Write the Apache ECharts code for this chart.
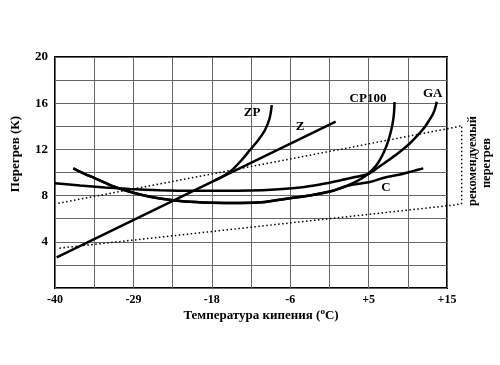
<!DOCTYPE html>
<html><head><meta charset="utf-8">
<script src="https://cdn.jsdelivr.net/npm/echarts@6/dist/echarts.min.js"></script>
<style>html,body{margin:0;padding:0;background:#fff}#c{width:500px;height:365px}</style>
</head><body><div id="c"></div>
<script>
// x values are on the chart's evenly spaced scale (grid every 10 units, -40..60)
var xTickValues = [-40, -20, 0, 20, 40, 60];
var xTickLabels = ['-40', '-29', '-18', '-6', '+5', '+15'];
var yTickValues = [4, 8, 12, 16, 20];

var zLine  = [[-39.57, 2.66], [31.6, 14.4]];
var zpCurve = [[0.82, 9.31], [4.64, 10.07], [7.62, 11.08], [9.74, 11.95], [11.86, 12.81], [13.6, 13.7], [14.75, 14.7], [15.3, 15.84]];
var cp100Curve = [[-35.33, 10.36], [-32.60, 9.91], [-29.80, 9.50], [-26.48, 9.00], [-22.98, 8.55], [-18.32, 8.10], [-13.21, 7.75], [-6.84, 7.49], [-0.03, 7.39], [7.19, 7.36], [13.57, 7.45], [19.95, 7.77], [25.05, 8.01], [30.15, 8.35], [33.98, 8.79], [37.04, 9.26], [39.34, 9.74], [41.12, 10.30], [42.40, 10.82], [43.80, 11.69], [44.82, 12.55], [45.59, 13.42], [46.15, 14.29], [46.48, 15.15], [46.61, 16.10]];
var cCurve = [[-35.33, 10.36], [-32.60, 9.91], [-29.80, 9.50], [-26.48, 9.00], [-22.98, 8.55], [-18.32, 8.10], [-13.21, 7.75], [-6.84, 7.49], [-0.03, 7.39], [7.19, 7.36], [13.57, 7.45], [19.95, 7.77], [25.05, 8.01], [30.15, 8.35], [33.98, 8.79], [37.04, 9.00], [40.36, 9.18], [44.18, 9.57], [48.01, 9.83], [51.07, 10.10], [53.95, 10.36]];
var gaCurve = [[-40, 9.06], [-33.62, 8.87], [-27.24, 8.70], [-20.87, 8.57], [-13.21, 8.47], [-5.56, 8.42], [2.09, 8.42], [9.74, 8.44], [16.12, 8.53], [22.50, 8.70], [27.60, 8.96], [32.70, 9.31], [36.53, 9.61], [39.92, 9.87], [42.40, 10.43], [44.95, 11.04], [48.01, 11.80], [50.56, 12.53], [52.60, 13.25], [54.39, 13.97], [55.66, 14.63], [56.51, 15.13], [57.07, 15.67], [57.37, 16.13]];
var bandLine = [[-39.16, 7.33], [62.04, 13.91], [63.74, 14.07], [63.74, 7.32], [62.04, 7.19], [-39.16, 3.44]];

var curveNames = ['ZP', 'Z', 'CP100', 'GA', 'C'];
var curveLabelPos = [[10.26, 15.15], [22.5, 13.94], [39.85, 16.36], [56.35, 16.8], [44.44, 8.66]];

var FONT = '"Liberation Serif","DejaVu Serif",serif';
var chart = echarts.init(document.getElementById('c'), null, {renderer: 'canvas'});

function curve(data, smooth) {
  return {type: 'line', data: data, smooth: smooth, showSymbol: false, symbol: 'none', clip: false,
    lineStyle: {color: '#000', width: 2.5}, z: 5};
}

chart.setOption({
  animation: false,
  backgroundColor: '#fff',
  grid: [
    {left: 55, right: 53, top: 57, bottom: 77, show: true, borderColor: '#000', borderWidth: 2, backgroundColor: 'transparent'},
    {left: 55, right: 33.4, top: 57, bottom: 77, show: false}
  ],
  xAxis: [
    {type: 'value', gridIndex: 0, min: -40, max: 60, interval: 10,
      axisLine: {show: false}, axisTick: {show: false},
      splitLine: {show: true, lineStyle: {color: '#666', width: 1}},
      axisLabel: {margin: 6, color: '#000', fontFamily: FONT, fontWeight: 'bold', fontSize: 12,
        formatter: function (v) { var i = xTickValues.indexOf(v); return i >= 0 ? xTickLabels[i] : ''; }}
    },
    {type: 'value', gridIndex: 1, min: -40, max: 65, show: false}
  ],
  yAxis: [
    {type: 'value', gridIndex: 0, min: 0, max: 20, interval: 2,
      axisLine: {show: false}, axisTick: {show: false},
      splitLine: {show: true, lineStyle: {color: '#666', width: 1}},
      axisLabel: {margin: 7, color: '#000', fontFamily: FONT, fontWeight: 'bold', fontSize: 13,
        formatter: function (v) { return yTickValues.indexOf(v) >= 0 ? String(v) : ''; }}
    },
    {type: 'value', gridIndex: 1, min: 0, max: 20, show: false}
  ],
  graphic: [
    {type: 'text', left: 9, top: 116, rotation: Math.PI / 2,
      style: {text: 'Перегрев (К)', fontFamily: FONT, fontWeight: 'bold', fontSize: 13, fill: '#000'}},
    {type: 'text', x: 261, y: 316,
      style: {text: 'Температура кипения ({s|o}C)', fontFamily: FONT, fontWeight: 'bold', fontSize: 13, fill: '#000',
        align: 'center', verticalAlign: 'middle',
        rich: {s: {fontSize: 9, fontFamily: FONT, fontWeight: 'bold', padding: [0, 0, 8, 0]}}}},
    {type: 'text', x: 473, y: 161, rotation: Math.PI / 2,
      style: {text: 'рекомендуемый', fontFamily: FONT, fontWeight: 'bold', fontSize: 12.5, fill: '#000', align: 'center', verticalAlign: 'middle'}},
    {type: 'text', x: 487, y: 163, rotation: Math.PI / 2,
      style: {text: 'перегрев', fontFamily: FONT, fontWeight: 'bold', fontSize: 12.5, fill: '#000', align: 'center', verticalAlign: 'middle'}}
  ],
  series: [
    {type: 'line', xAxisIndex: 1, yAxisIndex: 1, data: bandLine, showSymbol: false, symbol: 'none', clip: false,
      lineStyle: {color: '#000', width: 1.5, type: [1.5, 2.5]}, z: 4},
    curve(zLine, false),
    curve(zpCurve, 0.3),
    curve(cp100Curve, 0.3),
    curve(cCurve, 0.3),
    curve(gaCurve, 0.3),
    {type: 'scatter', symbolSize: 0, z: 6, itemStyle: {opacity: 1},
      data: curveNames.map(function (n, i) { return {name: n, value: curveLabelPos[i]}; }),
      label: {show: true, position: 'inside', formatter: '{b}', color: '#000', opacity: 1, textBorderWidth: 0,
        fontFamily: FONT, fontWeight: 'bold', fontSize: 13}}
  ]
});
</script></body></html>
